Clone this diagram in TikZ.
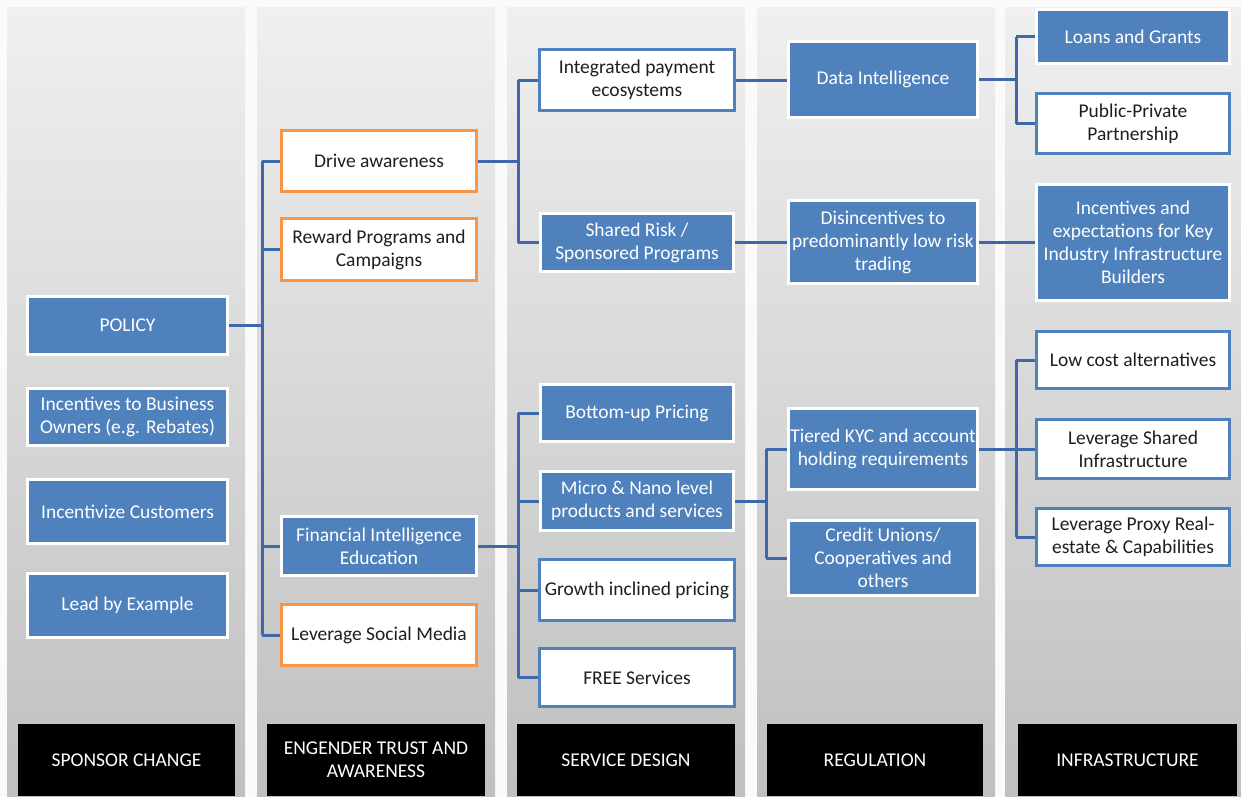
\documentclass[tikz,border=0pt]{standalone}
\usepackage{fontspec}
\setmainfont{Carlito}
\usepackage{xcolor}
\usepackage{tikz}
\definecolor{boxblue}{RGB}{79,129,189}
\definecolor{linkblue}{RGB}{62,104,170}
\definecolor{boxorange}{RGB}{247,150,70}
\definecolor{textdark}{RGB}{30,30,30}

\begin{document}
\begin{tikzpicture}[x=1pt, y=-1pt,
  every node/.style={rectangle, align=center, inner sep=1pt, line width=3pt, font=\fontsize{19.5}{23}\selectfont},
  bluebox/.style={draw=white, fill=boxblue, text=white},
  whitebox/.style={draw=boxblue, fill=white, text=textdark},
  orangebox/.style={draw=boxorange, fill=white, text=textdark},
  headbox/.style={fill=black, text=white, line width=0pt, minimum height=72pt},
  link/.style={draw=linkblue, line width=3pt}]
\useasboundingbox (0,0) rectangle (1241,796);
\fill[gray!4] (0,0) rectangle (1241,796);
% column panels
\foreach \xa/\xb in {7/245, 257/495, 507/745, 757/995, 1005/1241}
  \shade[top color=gray!12, bottom color=gray!50] (\xa,7) rectangle (\xb,796);

% sponsor change
\node[bluebox, minimum width=200, minimum height=58] (policy) at (127.5,325.5) {POLICY};
\node[bluebox, minimum width=200, minimum height=57] (bizown) at (127.5,417) {Incentives to Business\\Owners (e.g. Rebates)};
\node[bluebox, minimum width=200, minimum height=64] (incust) at (127.5,511.5) {Incentivize Customers};
\node[bluebox, minimum width=200, minimum height=64] (lead) at (127.5,605.5) {Lead by Example};

% engender trust and awareness
\node[orangebox, minimum width=195, minimum height=61] (drive) at (379,161) {Drive awareness};
\node[orangebox, minimum width=195, minimum height=62] (reward) at (379,249.5) {Reward Programs and\\Campaigns};
\node[bluebox, minimum width=195, minimum height=59] (finintel) at (379,546) {Financial Intelligence\\Education};
\node[orangebox, minimum width=195, minimum height=61] (social) at (379,635) {Leverage Social Media};

% service design
\node[whitebox, minimum width=195, minimum height=61] (integ) at (637,80) {Integrated payment\\ecosystems};
\node[bluebox, minimum width=193, minimum height=58] (shared) at (637,242.5) {Shared Risk /\\Sponsored Programs};
\node[bluebox, minimum width=193, minimum height=57] (bottom) at (637,413) {Bottom-up Pricing};
\node[bluebox, minimum width=193, minimum height=59] (micro) at (637,501) {Micro \& Nano level\\products and services};
\node[whitebox, minimum width=195, minimum height=61] (growth) at (637,590) {Growth inclined pricing};
\node[whitebox, minimum width=195, minimum height=58] (free) at (637,677.5) {FREE Services};

% regulation
\node[bluebox, minimum width=189, minimum height=76] (dataint) at (883,79.5) {Data Intelligence};
\node[bluebox, minimum width=189, minimum height=83] (disinc) at (883,242) {Disincentives to\\predominantly low risk\\trading};
\node[bluebox, minimum width=189, minimum height=81] (kyc) at (883,449) {Tiered KYC and account\\holding requirements};
\node[bluebox, minimum width=189, minimum height=75] (credit) at (883,558) {Credit Unions/\\Cooperatives and\\others};

% infrastructure
\node[bluebox, minimum width=193, minimum height=54] (loans) at (1133,36.5) {Loans and Grants};
\node[whitebox, minimum width=193, minimum height=60] (ppp) at (1133,123.5) {Public-Private\\Partnership};
\node[bluebox, minimum width=193, minimum height=116] (keyind) at (1133,242.5) {Incentives and\\expectations for Key\\Industry Infrastructure\\Builders};
\node[whitebox, minimum width=193, minimum height=57] (lowcost) at (1133,360) {Low cost alternatives};
\node[whitebox, minimum width=193, minimum height=59] (shinfra) at (1133,449) {Leverage Shared\\Infrastructure};
\node[whitebox, minimum width=193, minimum height=57] (proxy) at (1133,537) {Leverage Proxy Real-\\estate \& Capabilities};

% column heads
\node[headbox, minimum width=217] (h1) at (126.5,760) {SPONSOR CHANGE};
\node[headbox, minimum width=218] (h2) at (376,760) {ENGENDER TRUST AND\\AWARENESS};
\node[headbox, minimum width=218] (h3) at (626,760) {SERVICE DESIGN};
\node[headbox, minimum width=216] (h4) at (875,760) {REGULATION};
\node[headbox, minimum width=219] (h5) at (1127.5,760) {INFRASTRUCTURE};

% connectors
\coordinate (b1) at (262,0);
\coordinate (b2) at (518,0);
\coordinate (b4) at (766,0);
\coordinate (b5) at (1016,0);
\draw[link] (policy.east) -- (b1 |- policy.east);
\draw[link] (b1 |- drive.west) -- (b1 |- social.west);
\foreach \n in {drive,reward,finintel,social}
  \draw[link] (b1 |- \n.west) -- (\n.west);
\draw[link] (drive.east) -- (b2 |- drive.east);
\draw[link] (b2 |- integ.west) -- (b2 |- shared.west);
\foreach \n in {integ,shared}
  \draw[link] (b2 |- \n.west) -- (\n.west);
\draw[link] (finintel.east) -- (b2 |- finintel.east);
\draw[link] (b2 |- bottom.west) -- (b2 |- free.west);
\foreach \n in {bottom,micro,growth,free}
  \draw[link] (b2 |- \n.west) -- (\n.west);
\draw[link] (integ.east) -- (integ.east -| dataint.west);
\draw[link] (shared.east) -- (shared.east -| disinc.west);
\draw[link] (micro.east) -- (b4 |- micro.east);
\draw[link] (b4 |- kyc.west) -- (b4 |- credit.west);
\foreach \n in {kyc,credit}
  \draw[link] (b4 |- \n.west) -- (\n.west);
\draw[link] (dataint.east) -- (b5 |- dataint.east);
\draw[link] (b5 |- loans.west) -- (b5 |- ppp.west);
\foreach \n in {loans,ppp}
  \draw[link] (b5 |- \n.west) -- (\n.west);
\draw[link] (disinc.east) -- (disinc.east -| keyind.west);
\draw[link] (kyc.east) -- (b5 |- kyc.east);
\draw[link] (b5 |- lowcost.west) -- (b5 |- proxy.west);
\foreach \n in {lowcost,shinfra,proxy}
  \draw[link] (b5 |- \n.west) -- (\n.west);
\end{tikzpicture}
\end{document}
